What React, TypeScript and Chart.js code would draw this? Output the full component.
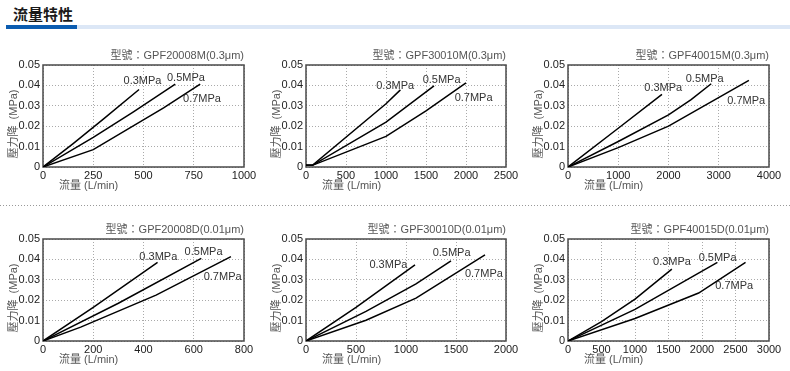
import React, { useEffect, useRef } from 'react';
import { Chart, registerables } from 'chart.js';

Chart.register(...registerables);

const FONT = "'Liberation Sans', 'Noto Sans CJK TC', Arial, sans-serif";

// ---- data ----
const PRESSURE_LABELS = ['0.3MPa', '0.5MPa', '0.7MPa'];

const MODELS = [
  'GPF20008M(0.3μm)',
  'GPF30010M(0.3μm)',
  'GPF40015M(0.3μm)',
  'GPF20008D(0.01μm)',
  'GPF30010D(0.01μm)',
  'GPF40015D(0.01μm)',
];

const X_MAX = [1000, 2500, 4000, 800, 2000, 3000];
const X_STEP = [250, 500, 1000, 200, 500, 500];
const Y_MAX = 0.05;
const Y_STEP = 0.01;

const X_TITLE = '流量 (L/min)';
const Y_TITLE = '壓力降  (MPa)';

// [flow L/min, pressure drop MPa] for 0.3 / 0.5 / 0.7 MPa
const GPF20008M = [
  [[0, 0], [150, 0.0115], [300, 0.0235], [478, 0.038]],
  [[0, 0], [250, 0.0145], [450, 0.027], [658, 0.0406]],
  [[0, 0], [250, 0.0085], [600, 0.029], [782, 0.0406]],
];
const GPF30010M = [
  [[0, 0.0008], [80, 0.0008], [1000, 0.031], [1180, 0.0378]],
  [[0, 0.0008], [80, 0.0008], [1000, 0.022], [1600, 0.0398]],
  [[0, 0.0008], [80, 0.0008], [1000, 0.015], [1500, 0.0275], [2000, 0.0412]],
];
const GPF40015M = [
  [[0, 0], [1000, 0.019], [1870, 0.0356]],
  [[0, 0], [1000, 0.0125], [2000, 0.0255], [2450, 0.033], [2850, 0.0408]],
  [[0, 0], [1000, 0.0095], [2000, 0.02], [3600, 0.0425]],
];
const GPF20008D = [
  [[0, 0], [200, 0.0165], [456, 0.0385]],
  [[0, 0], [300, 0.0185], [630, 0.0405]],
  [[0, 0], [150, 0.0068], [450, 0.0225], [748, 0.0414]],
];
const GPF30010D = [
  [[0, 0], [500, 0.0165], [1090, 0.0373]],
  [[0, 0], [600, 0.0145], [1100, 0.028], [1450, 0.0393]],
  [[0, 0], [600, 0.0102], [1100, 0.021], [1790, 0.0422]],
];
const GPF40015D = [
  [[0, 0], [500, 0.0095], [1000, 0.0205], [1550, 0.0352]],
  [[0, 0], [1000, 0.0155], [2230, 0.0385]],
  [[0, 0], [1000, 0.011], [1950, 0.0235], [2650, 0.0385]],
];
const SERIES = [GPF20008M, GPF30010M, GPF40015M, GPF20008D, GPF30010D, GPF40015D];

// where each pressure label sits, in data units
const LABEL_ANCHORS = [
  [[495, 0.0422], [711, 0.0436], [791, 0.0333]],
  [[1115, 0.0399], [1695, 0.0428], [2095, 0.034]],
  [[1895, 0.0385], [2720, 0.0433], [3546, 0.0322]],
  [[459, 0.0414], [639, 0.0438], [715, 0.0316]],
  [[824, 0.0373], [1456, 0.0432], [1779, 0.033]],
  [[1552, 0.0385], [2233, 0.0409], [2480, 0.0268]],
];

// ---- layout ----
const COL_LEFT = [43, 306, 568];
const COL_W = [201, 200, 201];
const ROW_TOP = [65, 239];
const PLOT_H = 102;
const Y_AXIS_W = 43;
const TITLE_H = 20;
const X_AXIS_H = 28;
const RIGHT_PAD = 22;

function FlowChart({ idx }: { idx: number }) {
  const ref = useRef<HTMLCanvasElement>(null);
  const col = idx % 3;
  const row = Math.floor(idx / 3);
  const plotLeft = COL_LEFT[col];
  const plotW = COL_W[col];
  const plotTop = ROW_TOP[row];
  const W = Y_AXIS_W + plotW + RIGHT_PAD;
  const H = TITLE_H + PLOT_H + X_AXIS_H;

  useEffect(() => {
    const canvas = ref.current!;
    const decor = {
      id: 'decor',
      beforeDatasetsDraw(chart: any) {
        const { ctx, chartArea: a } = chart;
        ctx.save();
        ctx.strokeStyle = '#4a4a4a';
        ctx.lineWidth = 1.5;
        ctx.strokeRect(a.left, a.top, a.right - a.left, a.bottom - a.top);
        ctx.restore();
      },
      afterDatasetsDraw(chart: any) {
        const { ctx, chartArea: a, scales } = chart;
        ctx.save();
        ctx.font = `11px ${FONT}`;
        ctx.fillStyle = '#333';
        ctx.textAlign = 'center';
        ctx.textBaseline = 'middle';
        LABEL_ANCHORS[idx].forEach(([lx, ly], i) => {
          ctx.fillText(PRESSURE_LABELS[i], scales.x.getPixelForValue(lx), scales.y.getPixelForValue(ly));
        });
        ctx.fillStyle = '#555';
        ctx.textAlign = 'left';
        ctx.fillText(X_TITLE, a.left + 16, a.bottom + 19);
        ctx.translate(a.left - 29, (a.top + a.bottom) / 2 + 8);
        ctx.rotate(-Math.PI / 2);
        ctx.textAlign = 'center';
        ctx.fillText(Y_TITLE, 0, 0);
        ctx.restore();
      },
    };

    const chart = new Chart(canvas, {
      type: 'line',
      data: {
        datasets: SERIES[idx].map((pts, i) => ({
          label: PRESSURE_LABELS[i],
          data: pts.map(([x, y]) => ({ x, y })),
          borderColor: '#000',
          borderWidth: 1.5,
          pointRadius: 0,
          fill: false,
          tension: 0,
        })),
      },
      options: {
        animation: false,
        responsive: false,
        events: [],
        layout: { padding: { left: 0, right: RIGHT_PAD, top: 0, bottom: 0 } },
        plugins: {
          legend: { display: false },
          tooltip: { enabled: false },
          title: {
            display: true,
            text: `型號：${MODELS[idx]}`,
            align: 'end',
            color: '#555',
            font: { family: FONT, size: 11, weight: 'normal', lineHeight: 1 },
            padding: { top: 5, bottom: 4 },
          },
        },
        scales: {
          x: {
            type: 'linear',
            min: 0,
            max: X_MAX[idx],
            ticks: {
              stepSize: X_STEP[idx],
              color: '#222',
              font: { family: FONT, size: 11 },
              padding: 2,
              maxRotation: 0,
              autoSkip: false,
              callback: (v: any) => String(v),
            },
            grid: { color: '#aaa', drawTicks: false, lineWidth: 1 },
            border: { display: false, dash: [1, 2] },
            afterFit: (s: any) => {
              s.height = X_AXIS_H;
              s.paddingLeft = 0;
              s.paddingRight = 0;
            },
          },
          y: {
            type: 'linear',
            min: 0,
            max: Y_MAX,
            ticks: {
              stepSize: Y_STEP,
              color: '#222',
              font: { family: FONT, size: 11 },
              padding: 3,
              callback: (v: any) => (Number(v) === 0 ? '0' : Number(v).toFixed(2)),
            },
            grid: { color: '#aaa', drawTicks: false, lineWidth: 1 },
            border: { display: false, dash: [1, 2] },
            afterFit: (s: any) => {
              s.width = Y_AXIS_W;
              s.paddingTop = 0;
              s.paddingBottom = 0;
            },
          },
        },
      },
      plugins: [decor],
    } as any);
    return () => chart.destroy();
  }, [idx]);

  return (
    <canvas
      ref={ref}
      width={W}
      height={H}
      style={{ position: 'absolute', left: plotLeft - Y_AXIS_W, top: plotTop - TITLE_H, width: W, height: H }}
    />
  );
}

export default function App() {
  return (
    <div
      style={{
        position: 'absolute',
        left: 0,
        top: 0,
        width: 790,
        height: 371,
        overflow: 'hidden',
        background: '#fff',
      }}
    >
      <div
        style={{
          position: 'absolute',
          left: 13,
          top: 6,
          fontFamily: "'Noto Sans CJK TC', sans-serif",
          fontWeight: 'bold',
          fontSize: 15,
          lineHeight: '15px',
          color: '#1a1a1a',
          whiteSpace: 'nowrap',
        }}
      >
        流量特性
      </div>
      <div style={{ position: 'absolute', left: 6, top: 25, width: 71, height: 4, background: '#0b5cb0' }} />
      <div style={{ position: 'absolute', left: 77, top: 25, width: 713, height: 4, background: '#dce7f6' }} />
      <div
        style={{
          position: 'absolute',
          left: 0,
          top: 205,
          width: 790,
          height: 1,
          backgroundImage: 'repeating-linear-gradient(to right, #999 0px, #999 1px, transparent 1px, transparent 3px)',
        }}
      />
      {MODELS.map((_, i) => (
        <FlowChart key={i} idx={i} />
      ))}
    </div>
  );
}
